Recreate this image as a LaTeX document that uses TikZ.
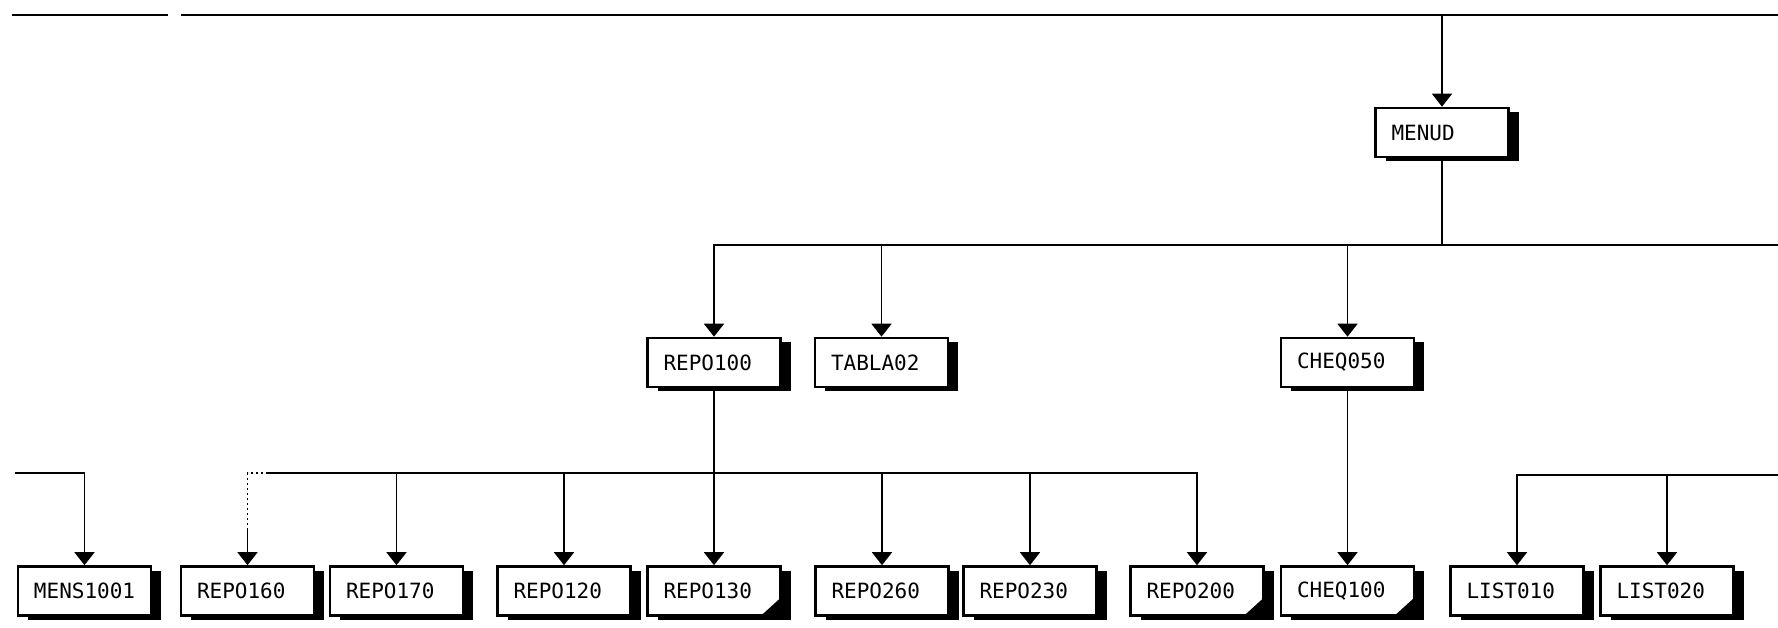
\documentclass[tikz,border=0pt]{standalone}
\usepackage{fontspec}
\newfontfamily\lblfont{DejaVu Sans Mono}
\usetikzlibrary{arrows.meta,shadows}
\tikzset{
  pbox/.style={draw=black, fill=white, line width=2.6pt, minimum width=133pt,
    minimum height=49pt, inner xsep=16pt, text width=101pt, align=left,
    font=\lblfont\fontsize{21}{24}\selectfont,
    general shadow={fill=black, shadow xshift=10pt, shadow yshift=-4pt}},
  conn/.style={draw=black, line width=1.6pt},
  arr/.style={conn, -{Triangle[width=20pt,length=13pt]}},
  faint/.style={conn, dash pattern=on 2pt off 3pt},
  notch/.style={fill=black}
}
\begin{document}
\begin{tikzpicture}[x=1pt,y=-1pt]
\useasboundingbox (0,0) rectangle (1778,627);
\fill[white] (0,0) rectangle (1778,627);

% coordinates for free ends
\coordinate (T0) at (12,15);
\coordinate (T1) at (168,15);
\coordinate (T2) at (181,15);
\coordinate (T3) at (1778,15);
\coordinate (E2) at (1778,245);
\coordinate (B3) at (0,473);
\coordinate (L3) at (15,473);
\coordinate (R3) at (1778,475);

% level 1
\node[pbox] (menud) at (1442,132.5) {MENUD};
% level 2
\node[pbox] (r100) at (714,362.5) {REPO100};
\node[pbox] (tab02) at (881.5,362.5) {TABLA02};
\node[pbox] (ch050) at (1347.5,362.5) {CHEQ050};
% level 3
\node[pbox] (m1001) at (84.5,591) {MENS1001};
\node[pbox] (r160) at (247.5,591) {REPO160};
\node[pbox] (r170) at (396.5,591) {REPO170};
\node[pbox] (r120) at (564,591) {REPO120};
\node[pbox] (r130) at (714,591) {REPO130};
\node[pbox] (r260) at (882,591) {REPO260};
\node[pbox] (r230) at (1030,591) {REPO230};
\node[pbox] (r200) at (1197,591) {REPO200};
\node[pbox] (ch100) at (1347.5,591) {CHEQ100};
\node[pbox] (l010) at (1517,591) {LIST010};
\node[pbox] (l020) at (1667,591) {LIST020};

% notched corners
\foreach \n in {r130,r200,ch100}{
  \fill[notch] ([xshift=-22pt]\n.south east) -- (\n.south east) -- ([yshift=20pt]\n.south east) -- cycle;
}

% top line
\draw[conn] (T0) -- (T1);
\draw[conn] (T2) -- (T3);
\draw[arr] (T0 -| menud.north) -- (menud.north);

% level 2 bus
\draw[conn] (menud.south) -- (menud.south |- E2) -- (E2);
\draw[arr] (menud.south |- E2) -| (r100.north);
\draw[arr] (menud.south |- E2) -| (tab02.north);
\draw[arr] (menud.south |- E2) -| (ch050.north);

% level 3 bus under REPO100
\draw[arr] (r100.south) -- (r130.north);
\draw[arr] (r100.south |- B3) -| (r170.north);
\draw[arr] (r100.south |- B3) -| (r120.north);
\draw[arr] (r100.south |- B3) -| (r260.north);
\draw[arr] (r100.south |- B3) -| (r230.north);
\draw[arr] (r100.south |- B3) -| (r200.north);
\draw[conn] (r100.south |- B3) -- ([xshift=20pt]r160.north |- B3);
\draw[faint] ([xshift=20pt]r160.north |- B3) -- (r160.north |- B3) -- ([yshift=-55pt]r160.north |- B3);
\draw[arr] ([yshift=-55pt]r160.north |- B3) -- (r160.north);

% CHEQ050 to CHEQ100
\draw[arr] (ch050.south) -- (ch100.north);

% left bus
\draw[arr] (L3) -| (m1001.north);

% right bus
\draw[arr] (R3) -| (l010.north);
\draw[arr] (R3) -| (l020.north);
\end{tikzpicture}
\end{document}
